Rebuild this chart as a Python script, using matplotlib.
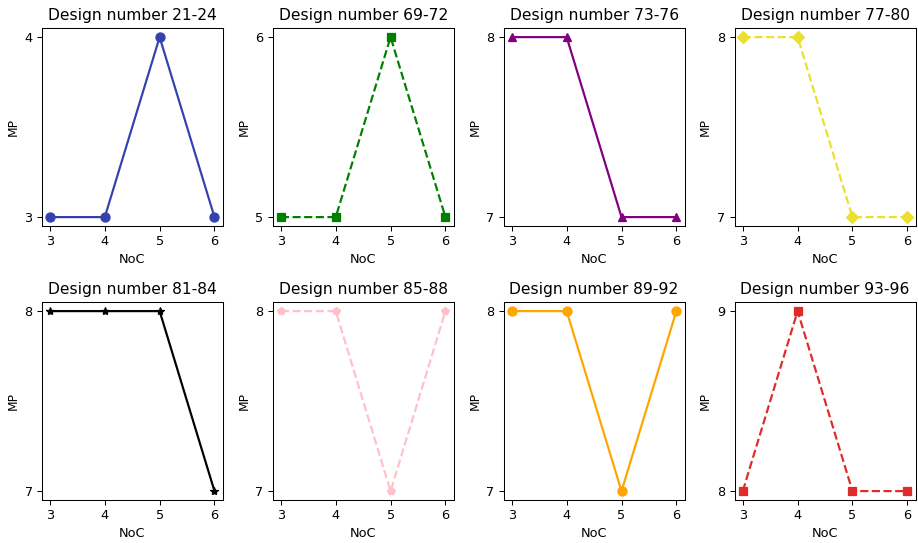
import matplotlib
matplotlib.use('Agg')
import matplotlib.pyplot as plt

# number of clusters on the x axis
noc = [3, 4, 5, 6]

titles = ['Design number 21-24', 'Design number 69-72', 'Design number 73-76', 'Design number 77-80',
          'Design number 81-84', 'Design number 85-88', 'Design number 89-92', 'Design number 93-96']

mp_21_24 = [3, 3, 4, 3]
mp_69_72 = [5, 5, 6, 5]
mp_73_76 = [8, 8, 7, 7]
mp_77_80 = [8, 8, 7, 7]
mp_81_84 = [8, 8, 8, 7]
mp_85_88 = [8, 8, 7, 8]
mp_89_92 = [8, 8, 7, 8]
mp_93_96 = [8, 9, 8, 8]

series = [mp_21_24, mp_69_72, mp_73_76, mp_77_80, mp_81_84, mp_85_88, mp_89_92, mp_93_96]

colors = ['#3342b0', 'green', 'purple', '#ebe02e', 'black', 'pink', 'orange', '#e02b2b']
markers = ['o', 's', '^', 'D', '*', 'p', 'o', 's']
styles = ['-', '--', '-', '--', '-', '--', '-', '--']
sizes = [7, 6.5, 6.5, 7, 6.5, 6, 7, 6.5]

fig, axes = plt.subplots(2, 4, figsize=(9.88, 5.84), dpi=93)

for ax, title, vals, c, m, ls, ms in zip(axes.flat, titles, series, colors, markers, styles, sizes):
    ax.plot(noc, vals, color=c, marker=m, linestyle=ls, linewidth=1.7, markersize=ms)
    ax.set_title(title)
    ax.set_xlabel('NoC', fontsize=10)
    ax.set_ylabel('MP', fontsize=9.5)
    ax.set_xticks(noc)
    ax.set_yticks(sorted(set(vals)))

plt.subplots_adjust(left=0.0454, right=0.9964, top=0.948, bottom=0.079, wspace=0.276, hspace=0.384)
plt.savefig('out.png')
